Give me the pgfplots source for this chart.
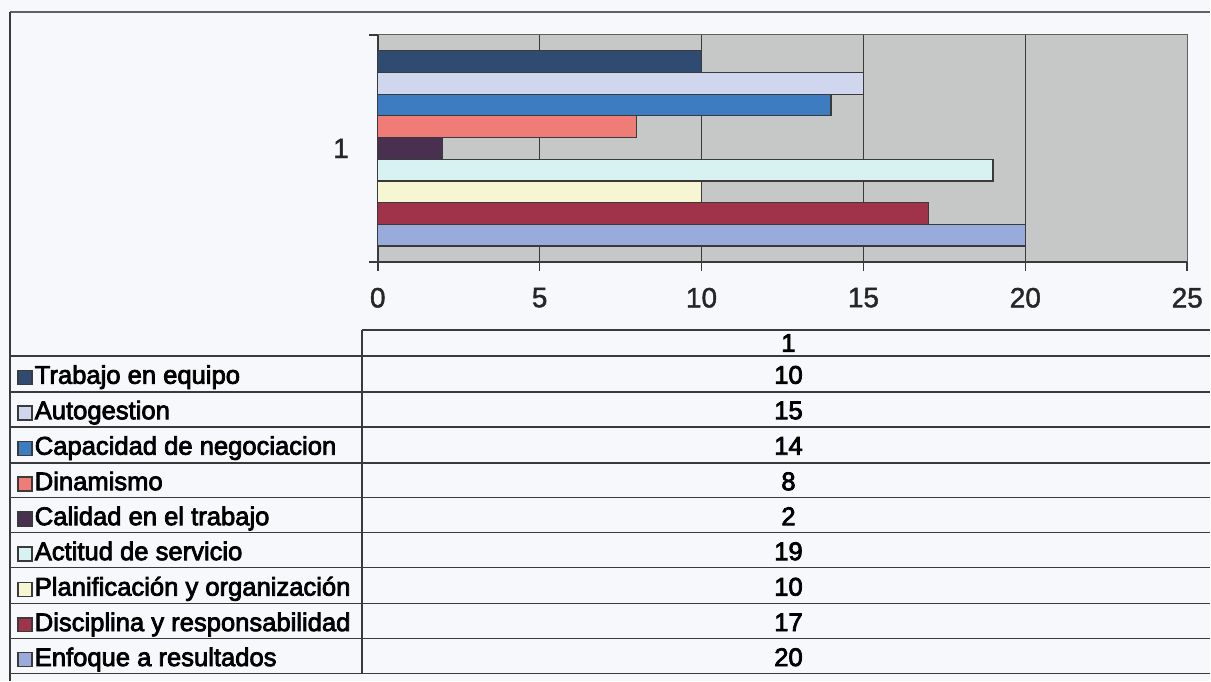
\documentclass[border=0pt]{standalone}
\usepackage{pgfplots}
\pgfplotsset{compat=1.18}
\usepackage{fontspec}
\setmainfont{Liberation Sans}
\newfontfamily\tabfam[FakeBold=3]{Liberation Sans}
\newfontfamily\tickfam[FakeBold=1.5]{Liberation Sans}
\definecolor{cTrabajo}{HTML}{2F4B72}
\definecolor{cAuto}{HTML}{D0D6EE}
\definecolor{cCapac}{HTML}{3E7CC2}
\definecolor{cDinam}{HTML}{EF7C76}
\definecolor{cCalidad}{HTML}{4A3050}
\definecolor{cActitud}{HTML}{D8F2F2}
\definecolor{cPlanif}{HTML}{F6F6D2}
\definecolor{cDiscip}{HTML}{A0324A}
\definecolor{cEnfoque}{HTML}{98ABDB}
\definecolor{plotgray}{HTML}{C6C8C8}
\definecolor{bg}{HTML}{F7F8FC}
\definecolor{linec}{HTML}{3A3A3A}
\newcommand{\swatch}[1]{{\setlength{\fboxsep}{0pt}\setlength{\fboxrule}{0.7pt}\fcolorbox{linec}{#1}{\vrule width 0pt height 6.3pt\hspace{6.3pt}}}}
\newcommand{\tabfont}{\tabfam\fontsize{12.8}{15}\selectfont}
\begin{document}
\begin{tikzpicture}
\begin{scope}[x=0.5pt,y=-0.5pt]
\fill[bg] (0,0) rectangle (1211,681);
\useasboundingbox (0,0) rectangle (1211,681);
\end{scope}
\begin{axis}[
  at={(189pt,-131pt)}, anchor=south west,
  width=405pt, height=113.5pt, scale only axis,
  xbar, bar width=0.0956,
  xmin=0, xmax=25, ymin=0.5, ymax=1.5,
  xtick={0,5,10,15,20,25},
  minor xtick={5,10,15,20}, xminorgrids,
  minor grid style={draw=linec, line width=0.7pt},
  minor tick length=0pt,
  ytick={0.5,1.5}, yticklabels={},
  extra y ticks={1}, extra y tick labels={1},
  extra y tick style={major tick length=0pt, yticklabel style={xshift=-11pt}},
  axis x line*=bottom, axis y line*=left,
  axis line style={draw=linec, line width=0.8pt},
  every tick/.style={draw=linec, line width=0.8pt},
  tick align=outside, major tick length=4.5pt,
  axis background/.style={fill=plotgray, draw=gray!75!black, line width=0.5pt},
  /pgf/number format/assume math mode=true,
  ticklabel style={font=\tickfam\fontsize{14}{16}\selectfont, text=black!85},
  xticklabel style={yshift=-5pt},
  clip=false,
]
\addplot[fill=cEnfoque, draw=linec, line width=0.6pt, bar shift=-0.3824] coordinates {(20,1)};
\addplot[fill=cDiscip, draw=linec, line width=0.6pt, bar shift=-0.2868] coordinates {(17,1)};
\addplot[fill=cPlanif, draw=linec, line width=0.6pt, bar shift=-0.1912] coordinates {(10,1)};
\addplot[fill=cActitud, draw=linec, line width=0.6pt, bar shift=-0.0956] coordinates {(19,1)};
\addplot[fill=cCalidad, draw=linec, line width=0.6pt, bar shift=0] coordinates {(2,1)};
\addplot[fill=cDinam, draw=linec, line width=0.6pt, bar shift=0.0956] coordinates {(8,1)};
\addplot[fill=cCapac, draw=linec, line width=0.6pt, bar shift=0.1912] coordinates {(14,1)};
\addplot[fill=cAuto, draw=linec, line width=0.6pt, bar shift=0.2868] coordinates {(15,1)};
\addplot[fill=cTrabajo, draw=linec, line width=0.6pt, bar shift=0.3824] coordinates {(10,1)};
\end{axis}
\begin{scope}[x=0.5pt,y=-0.5pt]
\draw[linec!80, line width=0.6pt] (10,12)--(1211,12);
\draw[linec, line width=0.8pt] (10,12)--(10,681);
\draw[linec, line width=0.8pt] (362,330)--(1211,330);
\foreach \yy in {356,392,427,463,498,533,568,604,639,674}
  \draw[linec, line width=0.8pt] (10,\yy)--(1211,\yy);
\draw[linec, line width=0.8pt] (362,330)--(362,674);
\node[anchor=base, inner sep=0, font=\tabfont] at (789,352) {1};
\node[anchor=base west, inner sep=0, font=\tabfont] at (17,384) {\swatch{cTrabajo}\hspace{1pt}Trabajo en equipo};
\node[anchor=base west, inner sep=0, font=\tabfont] at (17,419.5) {\swatch{cAuto}\hspace{1pt}Autogestion};
\node[anchor=base west, inner sep=0, font=\tabfont] at (17,455) {\swatch{cCapac}\hspace{1pt}Capacidad de negociacion};
\node[anchor=base west, inner sep=0, font=\tabfont] at (17,490.5) {\swatch{cDinam}\hspace{1pt}Dinamismo};
\node[anchor=base west, inner sep=0, font=\tabfont] at (17,525.5) {\swatch{cCalidad}\hspace{1pt}Calidad en el trabajo};
\node[anchor=base west, inner sep=0, font=\tabfont] at (17,560.5) {\swatch{cActitud}\hspace{1pt}Actitud de servicio};
\node[anchor=base west, inner sep=0, font=\tabfont] at (17,596) {\swatch{cPlanif}\hspace{1pt}Planificación y organización};
\node[anchor=base west, inner sep=0, font=\tabfont] at (17,631.5) {\swatch{cDiscip}\hspace{1pt}Disciplina y responsabilidad};
\node[anchor=base west, inner sep=0, font=\tabfont] at (17,666.5) {\swatch{cEnfoque}\hspace{1pt}Enfoque a resultados};
\node[anchor=base, inner sep=0, font=\tabfont] at (789,384) {10};
\node[anchor=base, inner sep=0, font=\tabfont] at (789,419.5) {15};
\node[anchor=base, inner sep=0, font=\tabfont] at (789,455) {14};
\node[anchor=base, inner sep=0, font=\tabfont] at (789,490.5) {8};
\node[anchor=base, inner sep=0, font=\tabfont] at (789,525.5) {2};
\node[anchor=base, inner sep=0, font=\tabfont] at (789,560.5) {19};
\node[anchor=base, inner sep=0, font=\tabfont] at (789,596) {10};
\node[anchor=base, inner sep=0, font=\tabfont] at (789,631.5) {17};
\node[anchor=base, inner sep=0, font=\tabfont] at (789,666.5) {20};
\end{scope}
\end{tikzpicture}
\end{document}
